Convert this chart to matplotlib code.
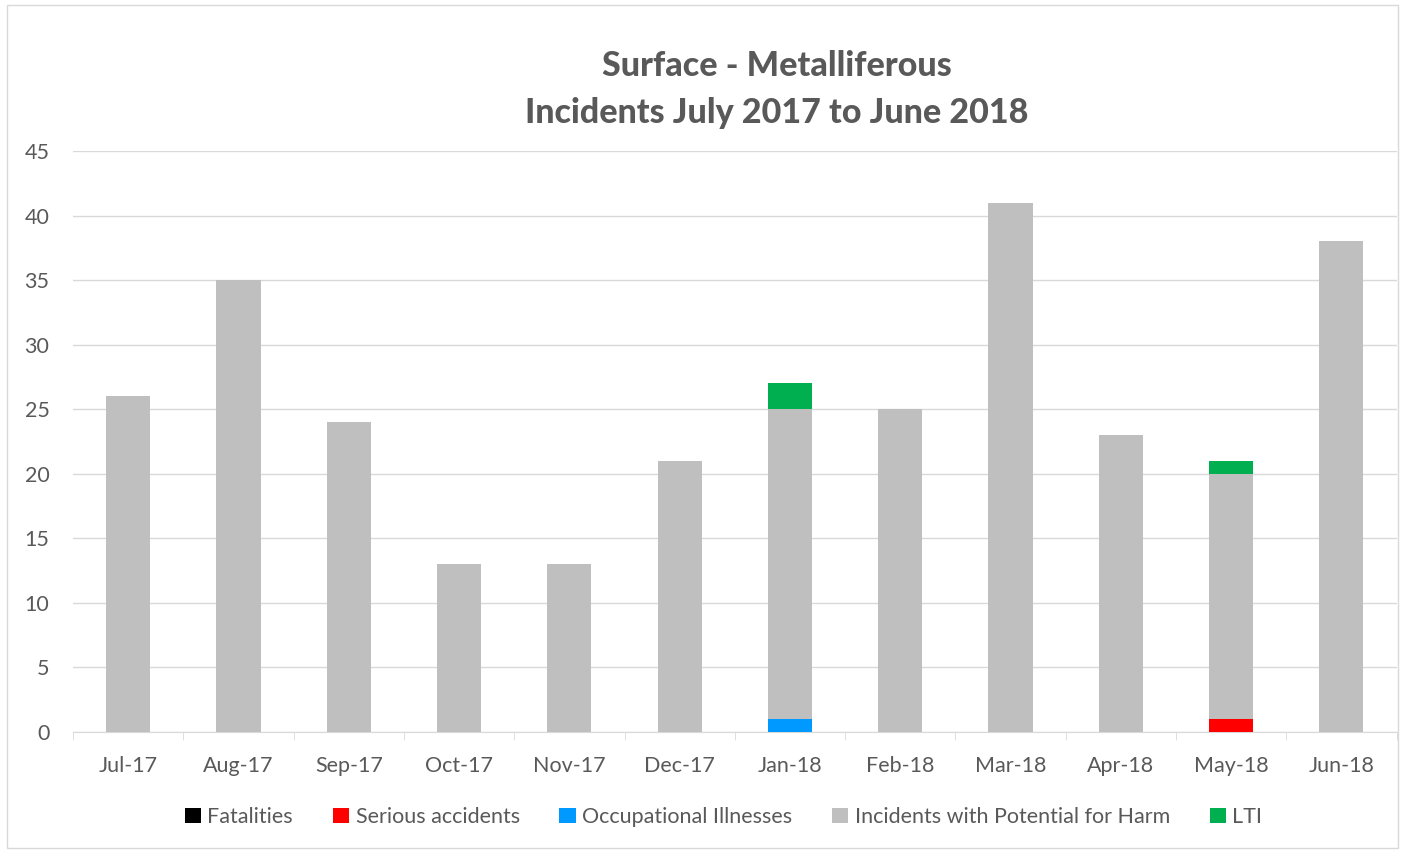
import matplotlib
matplotlib.use("Agg")
import matplotlib.pyplot as plt
import numpy as np

months = ["Jul-17", "Aug-17", "Sep-17", "Oct-17", "Nov-17", "Dec-17",
          "Jan-18", "Feb-18", "Mar-18", "Apr-18", "May-18", "Jun-18"]
fatalities = [0, 0, 0, 0, 0, 0, 0, 0, 0, 0, 0, 0]
serious = [0, 0, 0, 0, 0, 0, 0, 0, 0, 0, 1, 0]
occupational = [0, 0, 0, 0, 0, 0, 1, 0, 0, 0, 0, 0]
iph = [26, 35, 24, 13, 13, 21, 24, 25, 41, 23, 19, 38]
lti = [0, 0, 0, 0, 0, 0, 2, 0, 0, 0, 1, 0]

series = [
    ("Fatalities", fatalities, "#000000"),
    ("Serious accidents", serious, "#FF0000"),
    ("Occupational Illnesses", occupational, "#0099FF"),
    ("Incidents with Potential for Harm", iph, "#BFBFBF"),
    ("LTI", lti, "#00B050"),
]

plt.rcParams['font.family'] = ['Lato', 'DejaVu Sans']
txt = "#595959"

fig = plt.figure(figsize=(14.05, 8.51), dpi=100)
fig.patches.append(plt.Rectangle((0.005, 0.004), 0.99, 0.99, transform=fig.transFigure,
                                 fill=False, edgecolor="#D9D9D9", linewidth=1))
ax = fig.add_axes([0.052, 0.1398, 0.942, 0.6828])

x = np.arange(len(months))
bottom = np.zeros(len(months))
handles = []
for name, vals, col in series:
    v = np.array(vals, dtype=float)
    b = ax.bar(x, v, width=0.4, bottom=bottom, color=col, label=name, zorder=3)
    handles.append(b)
    bottom += v

ax.set_xlim(-0.5, len(months) - 0.5)
ax.set_ylim(0, 45)
ax.set_yticks(np.arange(0, 46, 5))
ax.set_xticks(x)
ax.set_xticklabels(months)
ax.set_xticks(np.arange(-0.5, len(months), 1), minor=True)
ax.tick_params(axis='x', which='major', length=0, pad=17, labelsize=15.5, labelcolor=txt)
ax.tick_params(axis='x', which='minor', length=6, color="#D9D9D9")
ax.tick_params(axis='y', length=0, pad=17, labelsize=15.5, labelcolor=txt)
ax.grid(axis='y', color="#D9D9D9", linewidth=1, zorder=0)
for s in ['top', 'right', 'left']:
    ax.spines[s].set_visible(False)
ax.spines['bottom'].set_color("#D9D9D9")

fig.text(0.553, 0.895, "Surface - Metalliferous\nIncidents July 2017 to June 2018",
         ha='center', va='center', fontsize=24.5, fontweight='black', color=txt,
         linespacing=1.55)

leg = fig.legend(handles=handles, loc='center', bbox_to_anchor=(0.515, 0.04), ncol=5,
                 frameon=False, fontsize=15.5, handlelength=0.75, handleheight=0.75,
                 handletextpad=0.3, columnspacing=1.85)
for t in leg.get_texts():
    t.set_color(txt)

fig.savefig("out.png", dpi=100)
